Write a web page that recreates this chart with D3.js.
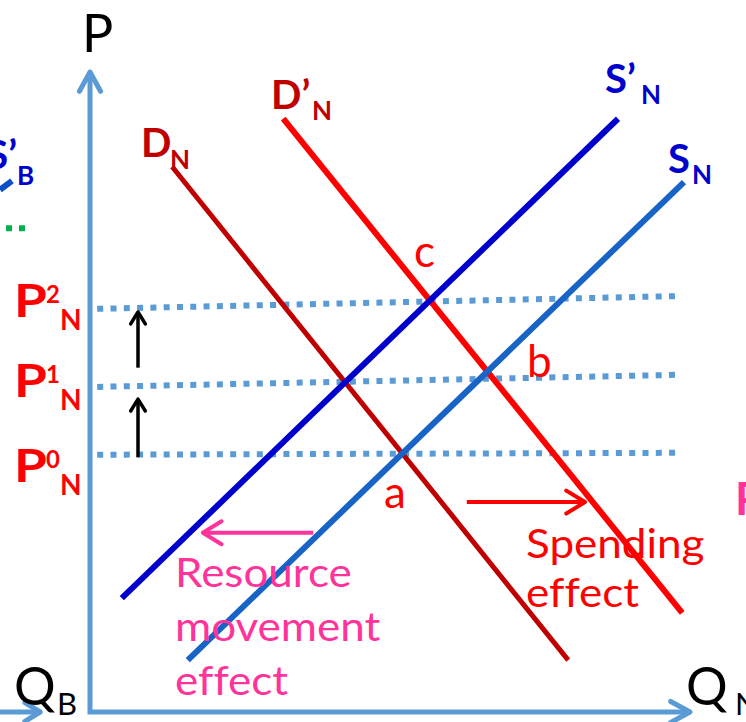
<!DOCTYPE html>
<html>
<head>
<meta charset="utf-8">
<script src="https://cdn.jsdelivr.net/npm/d3@7"></script>
<style>
  body { margin: 0; background: #fff; }
  svg { display: block; }
  text { font-family: Lato, "Open Sans", sans-serif; font-variant-ligatures: none; }
</style>
</head>
<body>
<svg></svg>
<script>
let width = 746,
    height = 722;

// curve endpoints, in diagram units (Q across, P up)
const demandN = [[13.7, 85.2], [79.7, 8.1]];
const demandN2 = [[32.2, 92.7], [98.7, 15.5]];
const supplyN2 = [[5.3, 17.8], [88.0, 92.7]];
const supplyN = [[16.3, 8.1], [99.0, 82.8]];
const supplyB2 = [[-15.0, 81.6], [-13.0, 83.0]];

// price levels: [name, level at left, level at right]
const priceLevels = [["2", 63.0, 65.0], ["1", 50.8, 52.7], ["0", 40.2, 40.5]];
const priceSpan = [1.2, 98.7];

// price rise arrows (from, to)
const priceRises = [[53.8, 62.5], [39.8, 48.9]];
const riseAt = 8;

// effects: [from, to, level]
const resourceArrow = [37.2, 18.8, 28.0];
const spendingArrow = [62.8, 82.5, 32.8];

const resourceLines = ["Resource", "movement", "effect"];
const spendingLines = ["Spending", "effect"];
const pointNames = ["a", "b", "c"];

let svg = d3.select("svg")
    .attr("width", width)
    .attr("height", height);

let x = d3.scaleLinear().domain([0, 100]).range([90, 690]);
let y = d3.scaleLinear().domain([0, 100]).range([712, 72]);

let line = d3.line().x(d => x(d[0])).y(d => y(d[1]));

// open chevron arrowhead at a pixel tip pointing along angle (radians)
function chevron(g, tx, ty, ang, len, spread, color, w) {
    let a1 = ang + Math.PI - spread,
        a2 = ang + Math.PI + spread;
    g.append("path")
        .attr("d", "M" + (tx + len * Math.cos(a1)) + "," + (ty + len * Math.sin(a1)) +
            "L" + tx + "," + ty +
            "L" + (tx + len * Math.cos(a2)) + "," + (ty + len * Math.sin(a2)))
        .attr("fill", "none")
        .attr("stroke", color)
        .attr("stroke-width", w)
        .attr("stroke-linecap", "round")
        .attr("stroke-linejoin", "round");
}

function arrow(g, p0, p1, color, w, len) {
    g.append("path")
        .attr("d", line([p0, p1]))
        .attr("stroke", color)
        .attr("stroke-width", w)
        .attr("fill", "none");
    let ang = Math.atan2(y(p1[1]) - y(p0[1]), x(p1[0]) - x(p0[0]));
    chevron(g, x(p1[0]), y(p1[1]), ang, len, 0.55, color, w);
}

// axes
let axes = svg.append("g");
axes.append("path")
    .attr("d", line([[0, 100], [0, 0], [100, 0]]))
    .attr("fill", "none")
    .attr("stroke", "#5B9BD5")
    .attr("stroke-width", 5);
chevron(axes, x(0), y(100), -Math.PI / 2, 22, 0.5, "#5B9BD5", 5);
chevron(axes, x(100), y(0), 0, 22, 0.5, "#5B9BD5", 5);
// arrow coming in from the neighbouring panel
arrow(axes, [-15, 0], [-8.3, 0], "#5B9BD5", 5, 18);

// dotted price lines
svg.append("g")
    .selectAll("path")
    .data(priceLevels)
    .enter()
    .append("path")
    .attr("d", d => line([[priceSpan[0], d[1]], [priceSpan[1], d[2]]]))
    .attr("stroke", "#5B9BD5")
    .attr("stroke-width", 6)
    .attr("stroke-dasharray", "6,7.3");

// green dots of the other panel
svg.append("path")
    .attr("d", line([[-14, 75.6], [-10.6, 75.6]]))
    .attr("stroke", "#00B050")
    .attr("stroke-width", 6)
    .attr("stroke-dasharray", "6,7");

// curves
let curves = [
    [supplyB2, "#0A4FC8", 6],
    [demandN, "#C00000", 5],
    [demandN2, "#FF0000", 6],
    [supplyN2, "#0000CC", 6],
    [supplyN, "#1763C6", 6]
];
svg.append("g")
    .selectAll("path")
    .data(curves)
    .enter()
    .append("path")
    .attr("d", d => line(d[0]))
    .attr("stroke", d => d[1])
    .attr("stroke-width", d => d[2])
    .attr("fill", "none");

// black price-rise arrows
let rises = svg.append("g");
priceRises.forEach(r => arrow(rises, [riseAt, r[0]], [riseAt, r[1]], "#000", 3.5, 14));

// effect arrows
let eff = svg.append("g");
arrow(eff, [resourceArrow[0], resourceArrow[2]], [resourceArrow[1], resourceArrow[2]], "#FF3399", 4, 22);
arrow(eff, [spendingArrow[0], spendingArrow[2]], [spendingArrow[1], spendingArrow[2]], "#FF0000", 4, 22);

// labels
let labels = svg.append("g");

function label(tx, ty, txt, size, color, weight, anchor, sx) {
    return labels.append("text")
        .attr("transform", "translate(" + tx + "," + ty + ") scale(" + (sx || 1) + ",1)")
        .attr("font-size", size)
        .attr("fill", color)
        .attr("font-weight", weight || "normal")
        .attr("text-anchor", anchor || "start")
        .text(txt);
}

label(82, 52, "P", 52, "#000");
label(14, 705, "Q", 52, "#000");
label(57, 715, "B", 31, "#000");
label(686, 705, "Q", 52, "#000");
label(735, 715, "N", 31, "#000");

// price level labels
let pBase = [317, 397, 482];
priceLevels.forEach((p, i) => {
    label(14, pBase[i], "P", 45, "#FF0000", "bold", "start", 1.18);
    label(46, pBase[i] - 14, p[0], 24, "#FF0000", "bold");
    label(60, pBase[i] + 13, "N", 28, "#FF0000", "bold");
});

// curve labels
label(141, 157, "D", 40, "#C00000", "bold");
label(170, 169, "N", 26, "#C00000", "bold");
label(271, 109, "D\u2019", 40, "#C00000", "bold");
label(312, 120, "N", 26, "#C00000", "bold");
label(605, 93, "S\u2019", 40, "#0000CC", "bold");
label(641, 104, "N", 26, "#0000CC", "bold");
label(668, 173, "S", 40, "#0000CC", "bold");
label(692, 184, "N", 26, "#0000CC", "bold");
label(17, 169, "S\u2019", 40, "#0000CC", "bold", "end");
label(17, 185, "B", 26, "#0000CC", "bold");
label(735, 515, "P", 45, "#FF3399", "bold");

// equilibrium points
let ptPos = [[384, 508], [527, 377], [414, 267]];
pointNames.forEach((n, i) => label(ptPos[i][0], ptPos[i][1], n, 44, "#FF0000"));

// effect captions
resourceLines.forEach((t, i) => label(175, 587 + i * 54, t, 40, "#FF3399", "normal", "start", 1.1));
spendingLines.forEach((t, i) => label(526, 558 + i * 49, t, 40, "#FF0000", "normal", "start", 1.1));
</script>
</body>
</html>
